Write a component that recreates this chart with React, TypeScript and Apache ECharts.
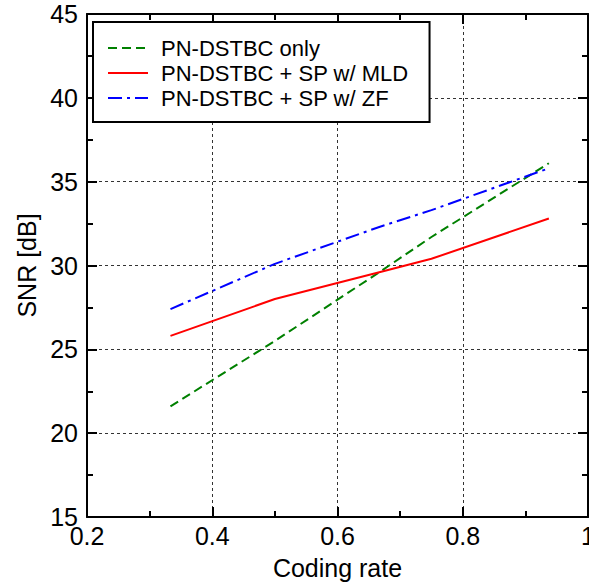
import React, { useEffect, useRef } from "react";
import * as echarts from "echarts";

const codingRate = [0.3333, 0.5, 0.6667, 0.75, 0.9375];
const snrOnly = [21.6, 25.5, 29.6, 31.7, 36.1];
const snrMld = [25.8, 28.0, 29.6, 30.4, 32.8];
const snrZf = [27.4, 30.1, 32.3, 33.3, 35.8];
const seriesNames = ["PN-DSTBC only", "PN-DSTBC + SP w/ MLD", "PN-DSTBC + SP w/ ZF"];

const FONT = "'Liberation Sans', Arial, Helvetica, sans-serif";

function pairs(xs: number[], ys: number[]) {
  return xs.map((x, i) => [x, ys[i]]);
}

export default function App() {
  const ref = useRef<HTMLDivElement>(null);
  useEffect(() => {
    if (!ref.current) return;
    const chart = echarts.init(ref.current, undefined, { renderer: "svg" });
    const gridLine = { show: true, lineStyle: { color: "#333", width: 1, type: [3, 3] as any } };
    const axisLine = { show: true, onZero: false, lineStyle: { color: "#000", width: 2 } };
    const tick = { show: true, inside: true, length: 10, lineStyle: { color: "#000", width: 2 } };
    const minor = { show: true, splitNumber: 2, length: 6, lineStyle: { color: "#000", width: 2 } };
    chart.setOption({
      animation: false,
      backgroundColor: "#fff",
      textStyle: { fontFamily: FONT },
      grid: { left: 87, right: 1, top: 14, bottom: 70, containLabel: false, outerBoundsMode: "none" },
      legend: {
        show: true,
        data: seriesNames,
        orient: "vertical",
        left: 93,
        top: 22,
        padding: [15, 21, 13, 14],
        itemWidth: 40,
        itemHeight: 14,
        itemGap: 3,
        backgroundColor: "#fff",
        borderColor: "#000",
        borderWidth: 2,
        borderRadius: 0,
        itemStyle: { opacity: 0 },
        textStyle: { fontFamily: FONT, fontSize: 22, color: "#000", lineHeight: 22, padding: [0, 0, 0, 8] },
      },
      xAxis: [
        {
          type: "value",
          min: 0.2,
          max: 1,
          interval: 0.2,
          position: "bottom",
          name: "Coding rate",
          nameLocation: "middle",
          nameGap: 38,
          nameTextStyle: { fontFamily: FONT, fontSize: 25, color: "#000" },
          axisLine,
          axisTick: tick,
          minorTick: minor,
          splitLine: gridLine,
          axisLabel: { show: true, margin: 6, fontFamily: FONT, fontSize: 25, color: "#000", showMinLabel: true, showMaxLabel: true, hideOverlap: false },
        },
        {
          type: "value",
          min: 0.2,
          max: 1,
          interval: 0.2,
          position: "top",
          axisLine,
          axisTick: tick,
          minorTick: minor,
          splitLine: { show: false },
          axisLabel: { show: false },
        },
      ],
      yAxis: [
        {
          type: "value",
          min: 15,
          max: 45,
          interval: 5,
          position: "left",
          name: "SNR [dB]",
          nameLocation: "middle",
          nameGap: 45,
          nameTextStyle: { fontFamily: FONT, fontSize: 25, color: "#000" },
          axisLine,
          axisTick: tick,
          minorTick: minor,
          splitLine: gridLine,
          axisLabel: { show: true, margin: 9, fontFamily: FONT, fontSize: 25, color: "#000", hideOverlap: false },
        },
        {
          type: "value",
          min: 15,
          max: 45,
          interval: 5,
          position: "right",
          axisLine,
          axisTick: tick,
          minorTick: minor,
          splitLine: { show: false },
          axisLabel: { show: false },
        },
      ],
      series: [
        {
          name: seriesNames[0],
          type: "line",
          xAxisIndex: 0,
          yAxisIndex: 0,
          data: pairs(codingRate, snrOnly),
          symbol: "none",
          lineStyle: { color: "#008000", width: 2, type: [9, 5] },
          itemStyle: { color: "#008000" },
        },
        {
          name: seriesNames[1],
          type: "line",
          xAxisIndex: 0,
          yAxisIndex: 0,
          data: pairs(codingRate, snrMld),
          symbol: "none",
          lineStyle: { color: "#ff0000", width: 2, type: "solid" },
          itemStyle: { color: "#ff0000" },
        },
        {
          name: seriesNames[2],
          type: "line",
          xAxisIndex: 0,
          yAxisIndex: 0,
          data: pairs(codingRate, snrZf),
          symbol: "none",
          lineStyle: { color: "#0000ff", width: 2, type: [14, 5, 3, 5] },
          itemStyle: { color: "#0000ff" },
        },
      ],
    });
    return () => chart.dispose();
  }, []);
  return (
    <div
      ref={ref}
      style={{ position: "absolute", left: 0, top: 0, width: 589, height: 587 }}
    />
  );
}
